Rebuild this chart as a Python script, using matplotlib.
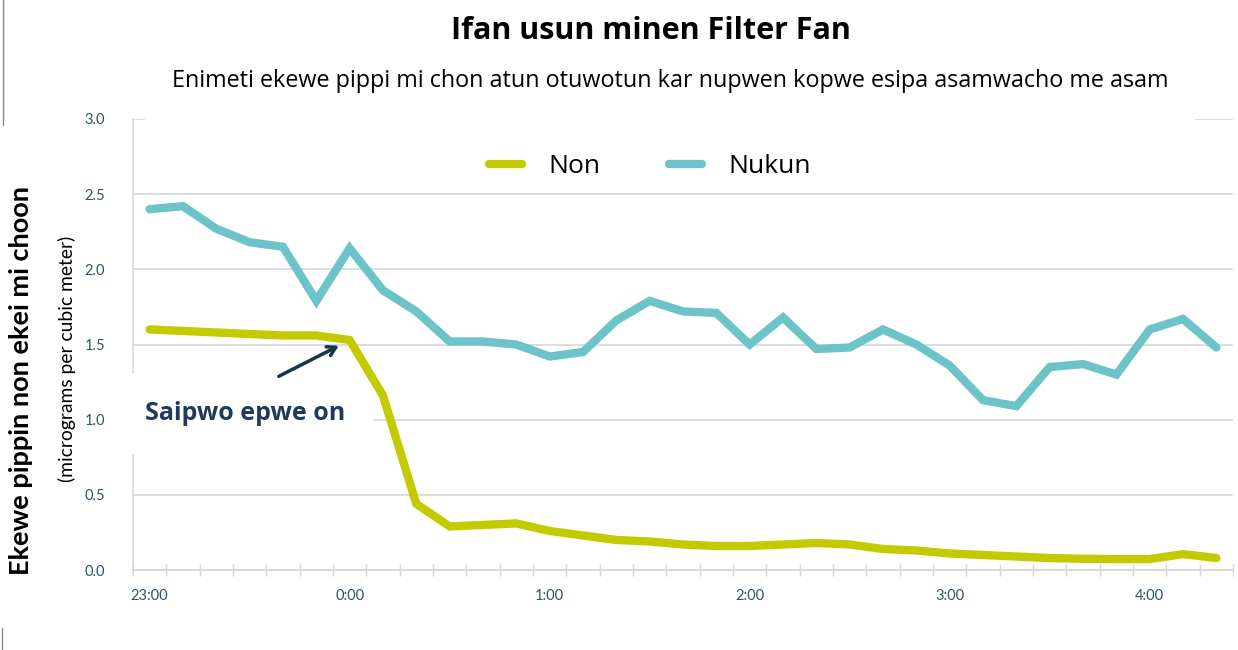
import matplotlib.pyplot as plt
from matplotlib.lines import Line2D
from matplotlib.patches import Rectangle

# readings every 10 minutes, 23:00 -> 4:20
times = ['23:00', '23:10', '23:20', '23:30', '23:40', '23:50',
         '0:00', '0:10', '0:20', '0:30', '0:40', '0:50',
         '1:00', '1:10', '1:20', '1:30', '1:40', '1:50',
         '2:00', '2:10', '2:20', '2:30', '2:40', '2:50',
         '3:00', '3:10', '3:20', '3:30', '3:40', '3:50',
         '4:00', '4:10', '4:20']

non = [1.60, 1.59, 1.58, 1.57, 1.56, 1.56, 1.53, 1.16, 0.44, 0.29, 0.30,
       0.31, 0.26, 0.23, 0.20, 0.19, 0.17, 0.16, 0.16, 0.17, 0.18, 0.17,
       0.14, 0.13, 0.11, 0.10, 0.09, 0.08, 0.075, 0.073, 0.073, 0.106, 0.08]

nukun = [2.40, 2.42, 2.27, 2.18, 2.15, 1.79, 2.14, 1.86, 1.72, 1.52, 1.52,
         1.50, 1.42, 1.45, 1.66, 1.79, 1.72, 1.71, 1.50, 1.68, 1.47, 1.48,
         1.60, 1.50, 1.36, 1.13, 1.09, 1.35, 1.37, 1.30, 1.60, 1.67, 1.48]

green = '#C3CB00'
teal = '#6CC4C9'
navy = '#1F3A5F'
tick_col = '#2E5466'
grid_col = '#D6D6DB'

x = list(range(len(times)))

fig = plt.figure(figsize=(12.38, 6.5), dpi=100)
ax = fig.add_axes([0.1074, 0.123, 0.8886, 0.694])
ax.set_axisbelow(True)

ax.plot(x, non, color=green, lw=6, solid_capstyle='round', solid_joinstyle='miter', zorder=3, label='Non')
ax.plot(x, nukun, color=teal, lw=6, solid_capstyle='round', solid_joinstyle='miter', zorder=3, label='Nukun')

ax.set_xlim(-0.5, len(times) - 0.5)
ax.set_ylim(0, 3.0)
ax.set_yticks([0, 0.5, 1.0, 1.5, 2.0, 2.5, 3.0])
ax.set_yticklabels(['0.0', '0.5', '1.0', '1.5', '2.0', '2.5', '3.0'])
ax.set_xticks(x[::6])
ax.set_xticklabels(times[::6])
ax.set_xticks([i - 0.5 for i in range(len(times) + 1)], minor=True)

ax.grid(axis='y', color=grid_col, lw=1.2)
for s in ['top', 'right']:
    ax.spines[s].set_visible(False)
for s in ['left', 'bottom']:
    ax.spines[s].set_color(grid_col)
    ax.spines[s].set_linewidth(1.2)

ax.tick_params(axis='y', length=0, pad=20, labelsize=10.5, labelcolor=tick_col)
ax.tick_params(axis='x', which='major', length=0, pad=14, labelsize=10.5, labelcolor=tick_col)
ax.tick_params(axis='x', which='minor', direction='inout', length=9, width=1, color=grid_col)
for lab in ax.get_xticklabels() + ax.get_yticklabels():
    lab.set_family('Lato')

# white area behind the subtitle hides the top gridline
ax.add_patch(Rectangle((0.011, 0.97), 0.954, 0.06, transform=ax.transAxes,
                       facecolor='white', edgecolor='none', zorder=1, clip_on=False))

leg = ax.legend(loc='upper center', bbox_to_anchor=(0.47, 0.975), ncol=2, frameon=False,
                handlelength=1.25, handletextpad=1.0, columnspacing=2.6,
                prop={'family': 'Open Sans', 'size': 19})
for ln in leg.get_lines():
    ln.set_solid_capstyle('round')

# annotation
ax.text(2.85, 1.04, 'Saipwo epwe on', ha='center', va='center', fontsize=18,
        fontweight='bold', color=navy, family='Open Sans', zorder=2.7,
        bbox=dict(facecolor='white', edgecolor='none', pad=20))
ax.annotate('', xy=(5.75, 1.50), xytext=(3.8, 1.28),
            arrowprops=dict(arrowstyle='->,head_length=0.6,head_width=0.35',
                            lw=2.5, color='#173548'), zorder=4)

fig.text(0.526, 0.953, 'Ifan usun minen Filter Fan', ha='center', va='center',
         fontsize=22, fontweight='bold', family='Open Sans')
fig.text(0.541, 0.876, 'Enimeti ekewe pippi mi chon atun otuwotun kar nupwen kopwe esipa asamwacho me asam',
         ha='center', va='center', fontsize=16.8, family='Open Sans')

fig.text(0.017, 0.414, 'Ekewe pippin non ekei mi choon', rotation=90, ha='center', va='center',
         fontsize=19.5, fontweight='bold', family='Lato')
fig.text(0.054, 0.448, '(micrograms per cubic meter)', rotation=90, ha='center', va='center',
         fontsize=13.9, family='Lato')

# slide border fragments
fig.add_artist(Line2D([0.0025, 0.0025], [1.0, 0.808], color='#8A8A8A', lw=1))
fig.add_artist(Line2D([0.0018, 0.0018], [0.034, 0.0], color='#8A8A8A', lw=1))

fig.savefig('out.png', dpi=100, facecolor='white')
